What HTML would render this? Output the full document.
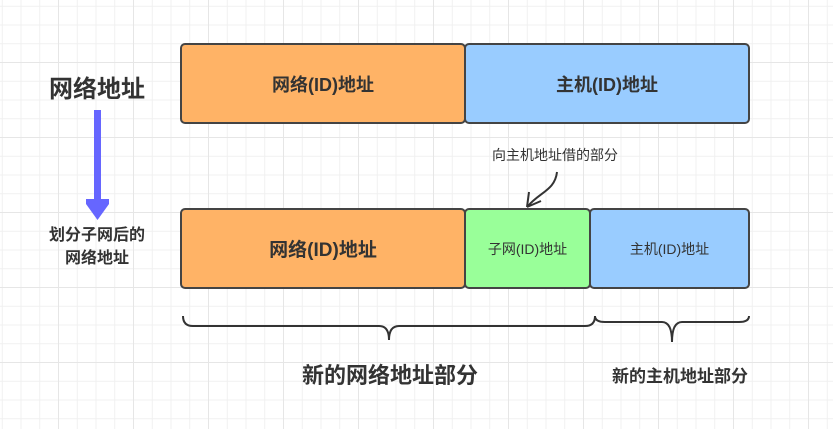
<!DOCTYPE html>
<html><head><meta charset="utf-8"><style>
body{margin:0;width:833px;height:429px;overflow:hidden;background:#fff;
background-image:linear-gradient(#e6e6e6 1px,transparent 1px),linear-gradient(90deg,#e6e6e6 1px,transparent 1px),linear-gradient(#f0f0f0 1px,transparent 1px),linear-gradient(90deg,#f0f0f0 1px,transparent 1px);
background-size:75px 75px,75px 75px,18.75px 18.75px,18.75px 18.75px;background-position:-17px -13px;
font-family:"Liberation Sans","Noto Sans CJK SC",sans-serif;color:#333;position:relative}
.b{position:absolute;box-sizing:border-box;border:2px solid #444;border-radius:5px;display:flex;align-items:center;justify-content:center;font-weight:bold}
.t{position:absolute;font-weight:bold;text-align:center;white-space:nowrap}
</style></head><body>
<div class="b" style="left:180px;top:43px;width:286px;height:81px;background:#FFB366;font-size:18px">网络(ID)地址</div>
<div class="b" style="left:464px;top:43px;width:286px;height:81px;background:#99CCFF;font-size:18px">主机(ID)地址</div>
<div class="b" style="left:180px;top:208px;width:286px;height:81px;background:#FFB366;font-size:19px">网络(ID)地址</div>
<div class="b" style="left:464px;top:208px;width:127px;height:81px;background:#99FF99;font-size:14px;font-weight:normal">子网(ID)地址</div>
<div class="b" style="left:589px;top:208px;width:161px;height:81px;background:#99CCFF;font-size:14px;font-weight:normal">主机(ID)地址</div>
<div class="t" style="left:37px;top:69px;width:120px;font-size:24px">网络地址</div>
<div class="t" style="left:27px;top:224px;width:140px;font-size:16px;line-height:23px">划分子网后的<br>网络地址</div>
<div class="t" style="left:440px;top:145px;width:230px;font-size:14px;font-weight:normal">向主机地址借的部分</div>
<div class="t" style="left:240px;top:358px;width:300px;font-size:22px">新的网络地址部分</div>
<div class="t" style="left:580px;top:362px;width:200px;font-size:17px">新的主机地址部分</div>
<svg width="833" height="429" style="position:absolute;left:0;top:0">
<rect x="94" y="110" width="7" height="92" fill="#6666FF"/>
<path d="M86 199 L109 199 L109 204 L97.5 220 L86 204 Z" fill="#6666FF"/>
<path d="M557 172 C555 190 540 192 528 206 M527 207 L529 192 M527 207 L541 201" fill="none" stroke="#333" stroke-width="2"/>
<path d="M183 316 Q183 326 193 326 L379 326 Q389 326 389 340 Q389 326 399 326 L585 326 Q595 326 595 316" fill="none" stroke="#333" stroke-width="2"/>
<path d="M595 316 Q595 322 605 322 L662 322 Q672 322 672 342 Q672 322 682 322 L739 322 Q749 322 749 316" fill="none" stroke="#333" stroke-width="2"/>
</svg>
</body></html>
